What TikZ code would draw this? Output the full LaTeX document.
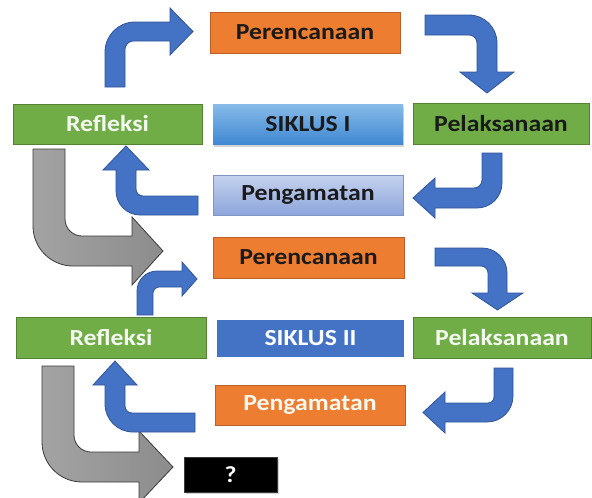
\documentclass[tikz,border=0pt]{standalone}
\usepackage{fontspec}
\usepackage{graphicx}
\setmainfont{Carlito}
\usetikzlibrary{shadows}
\definecolor{orng}{HTML}{ED7D31}
\definecolor{orngb}{HTML}{B9602A}
\definecolor{grn}{HTML}{70AD47}
\definecolor{grnb}{HTML}{548235}
\definecolor{blu}{HTML}{4472C4}
\definecolor{blub}{HTML}{2F5597}
\definecolor{skyt}{HTML}{86BAE8}
\definecolor{skyb}{HTML}{3F88D2}
\definecolor{lavt}{HTML}{C5D2EE}
\definecolor{lavb}{HTML}{8CA5DA}
\definecolor{lavbd}{HTML}{7E95C8}
\definecolor{gryf}{HTML}{8C8C8C}
\definecolor{grylt}{HTML}{A3A3A3}
\definecolor{grybd}{HTML}{3A3A3A}
\definecolor{offw}{HTML}{F4F8F1}
\definecolor{txtd}{HTML}{1A1A1A}
\newcommand{\lbl}[1]{\scalebox{1.12}[1]{#1}}
\tikzset{
  box/.style={rectangle, inner sep=0pt, minimum height=40pt, text=txtd,
    font=\fontsize{23}{25}\selectfont\bfseries, line width=0.8pt},
  orbox/.style={box, fill=orng, draw=orngb},
  grbox/.style={box, fill=grn, draw=grnb},
  blarrow/.style={fill=blu, draw=blub, line width=0.8pt, line join=miter},
  grarrow/.style={left color=grylt, right color=gryf, draw=grybd, line width=0.8pt, line join=miter},
}
\begin{document}
\begin{tikzpicture}[x=1pt,y=-1pt]
\useasboundingbox (0,0) rectangle (592,498);
\clip (0,0) rectangle (592,498);

% gray arrows
\draw[grarrow] (33,149) -- (33,226) .. controls (33,248.1) and (50.9,266) .. (73,266) -- (132,266) -- (132,285) -- (163,251) -- (132,217) -- (132,236) -- (82,236) .. controls (72.6,236) and (65,228.4) .. (65,219) -- (65,149) -- cycle;
\draw[grarrow] (42,366) -- (42,442) .. controls (42,464.1) and (59.9,482) .. (82,482) -- (139,482) -- (139,503) -- (173,467) -- (139,431) -- (139,452) -- (91,452) .. controls (81.6,452) and (74,444.4) .. (74,435) -- (74,366) -- cycle;

% boxes, cycle I
\node[orbox, minimum width=190pt, minimum height=41pt] (per1) at (305,32.5) {\lbl{Perencanaan}};
\node[grbox, minimum width=189pt] (ref1) at (107.5,124) {\color{offw}\lbl{Refleksi}};
\node[box, minimum width=190pt, top color=skyt, bottom color=skyb, drop shadow={opacity=0.35, shadow xshift=1pt, shadow yshift=-2.5pt}] (sik1) at (308,124.5) {\lbl{SIKLUS I}};
\node[grbox, minimum width=176pt, minimum height=41pt] (pel1) at (501,123.5) {\lbl{Pelaksanaan}};
\node[box, minimum width=190pt, top color=lavt, bottom color=lavb, draw=lavbd] (pen1) at (308,195) {\lbl{Pengamatan}};

% boxes, cycle II
\node[orbox, minimum width=191pt, minimum height=41pt] (per2) at (308.5,257.5) {\lbl{Perencanaan}};
\node[grbox, minimum width=190pt, minimum height=41pt] (ref2) at (111,337.5) {\color{offw}\lbl{Refleksi}};
\node[box, minimum width=187pt, minimum height=37pt, fill=blu] (sik2) at (310.5,338.5) {\color{white}\lbl{SIKLUS II}};
\node[grbox, minimum width=178pt, minimum height=41pt] (pel2) at (502,337.5) {\color{offw}\lbl{Pelaksanaan}};
\node[orbox, minimum width=190pt] (pen2) at (310,405) {\color{offw}\lbl{Pengamatan}};
\node[box, minimum width=93pt, minimum height=35pt, fill=black, draw=grybd, drop shadow={opacity=0.35, shadow xshift=1.5pt, shadow yshift=-2pt}] (q) at (230.5,474.5) {\color{white}\lbl{?}};

% blue arrows, cycle I
\draw[blarrow] (105,87) -- (105,52) .. controls (105,35.4) and (118.4,22) .. (135,22) -- (170,22) -- (170,8) -- (193,31.5) -- (170,55) -- (170,41) -- (133,41) .. controls (128.6,41) and (125,45.4) .. (125,49) -- (125,87) -- cycle;
\draw[blarrow] (425,15) -- (469,15) .. controls (484.5,15) and (497,27.5) .. (497,43) -- (497,72) -- (514,72) -- (487,93) -- (460,72) -- (477,72) -- (477,43) .. controls (477,38.6) and (473.4,35) .. (469,35) -- (425,35) -- cycle;
\draw[blarrow] (502,153) -- (502,183) .. controls (502,196.8) and (490.8,208) .. (477,208) -- (435,208) -- (435,218) -- (413,198) -- (435,178) -- (435,188) -- (474,188) .. controls (478.4,188) and (482,184.4) .. (482,180) -- (482,153) -- cycle;
\draw[blarrow] (198,215) -- (140,215) .. controls (126.8,215) and (116,204.2) .. (116,191) -- (116,170) -- (103,170) -- (126,146) -- (149,170) -- (136,170) -- (136,189) .. controls (136,192.9) and (139.1,196) .. (143,196) -- (198,196) -- cycle;

% blue arrows, cycle II
\draw[blarrow] (137,315) -- (137,291) .. controls (137,280) and (146,271) .. (157,271) -- (182,271) -- (182,262) -- (197,279) -- (182,296) -- (182,287) -- (159,287) .. controls (155.7,287) and (153,290.3) .. (153,293) -- (153,315) -- cycle;
\draw[blarrow] (435,248) -- (482,248) .. controls (495.8,248) and (507,259.2) .. (507,273) -- (507,293) -- (523,293) -- (497.5,310) -- (472,293) -- (488,293) -- (488,273) .. controls (488,269.1) and (484.9,266) .. (481,266) -- (435,266) -- cycle;
\draw[blarrow] (513,368) -- (513,396) .. controls (513,410.4) and (501.4,422) .. (487,422) -- (445,422) -- (445,433) -- (423,412.5) -- (445,392) -- (445,403) -- (488,403) .. controls (491.3,403) and (494,400.3) .. (494,397) -- (494,368) -- cycle;
\draw[blarrow] (195,432) -- (133,432) .. controls (117.5,432) and (105,419.5) .. (105,404) -- (105,385) -- (93,385) -- (115,361) -- (137,385) -- (125,385) -- (125,406) .. controls (125,409.9) and (128.1,413) .. (132,413) -- (195,413) -- cycle;
\end{tikzpicture}
\end{document}
